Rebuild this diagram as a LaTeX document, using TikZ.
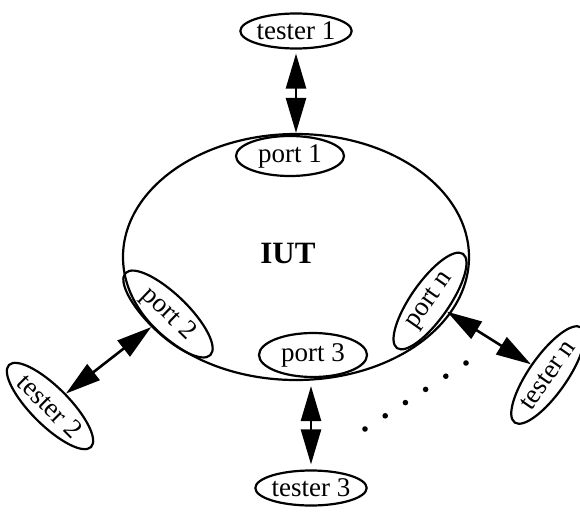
\documentclass[tikz,border=0pt]{standalone}
\usepackage{fontspec}
\setmainfont{Liberation Serif}
\usetikzlibrary{arrows.meta,shapes.geometric}

\tikzset{
  oval/.style={draw, ellipse, line width=2.2pt, inner sep=0pt, font=\fontsize{27}{30}\selectfont},
  port/.style={oval, minimum width=108pt, minimum height=40pt},
  tester/.style={oval, minimum width=110pt, minimum height=35pt},
  link/.style={line width=2.6pt, {Triangle[length=35pt,width=20pt]}-{Triangle[length=35pt,width=20pt]}},
}

\begin{document}
\begin{tikzpicture}[x=1pt,y=-1pt]
    \useasboundingbox (0,0) rectangle (580,511);
    % the implementation and its ports
    \node[draw, ellipse, line width=2.2pt, minimum width=346pt, minimum height=246pt] (iut) at (296,257) {};
    \node[font=\fontsize{31}{34}\selectfont\bfseries] (iutname) at (288,253) {IUT};
    \node[port] (port1) at (290,156) {port 1};
    \node[port, minimum height=44pt] (port3) at (313,355) {port 3};
    \node[port, rotate=-44, minimum width=118pt] (port2) at (168,314) {port 2};
    \node[port, rotate=55, minimum width=115pt, minimum height=38pt] (portn) at (430,301) {port n};
    % testers
    \node[tester] (tester1) at (296,31) {tester 1};
    \node[tester] (tester3) at (311,488) {tester 3};
    \node[tester, rotate=-45, minimum width=116pt, minimum height=38pt] (tester2) at (50,406) {tester 2};
    \node[tester, rotate=55, minimum width=116pt, minimum height=38pt] (testern) at (548,375) {tester n};
    % links
    \draw[link, shorten <=4pt] (tester1.south) -- (tester1.south |- iut.north);
    \draw[link, shorten <=5pt, shorten >=5pt] (tester3.north |- iut.south) -- (tester3.north);
    \draw[link] (port2) -- (tester2);
    \draw[link] (portn) -- (testern);
    \foreach \i in {0,...,5}
    {
      \fill (365+20.2*\i, 429-13.2*\i) circle (2.8pt);
    }
\end{tikzpicture}
\end{document}
